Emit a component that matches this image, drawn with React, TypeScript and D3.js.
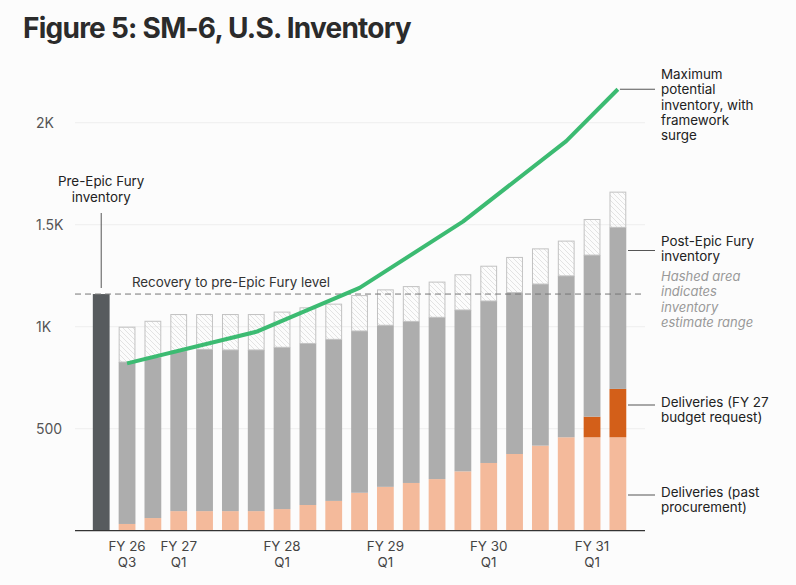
import React from 'react'
import * as d3 from 'd3'

// quarters shown as bars (after the pre-Epic Fury bar)
const quarters = [
  'FY26 Q3', 'FY26 Q4',
  'FY27 Q1', 'FY27 Q2', 'FY27 Q3', 'FY27 Q4',
  'FY28 Q1', 'FY28 Q2', 'FY28 Q3', 'FY28 Q4',
  'FY29 Q1', 'FY29 Q2', 'FY29 Q3', 'FY29 Q4',
  'FY30 Q1', 'FY30 Q2', 'FY30 Q3', 'FY30 Q4',
  'FY31 Q1', 'FY31 Q2',
]
const preEpicKey = 'Pre'
const preEpicValue = 1160

// deliveries, past procurement
const pastDeliveries = [33, 62, 96, 96, 96, 96, 106, 126, 146, 186, 215, 234, 253, 291, 332, 376, 417, 458, 458, 458]
// deliveries, FY 27 budget request
const budgetDeliveries = [0, 0, 0, 0, 0, 0, 0, 0, 0, 0, 0, 0, 0, 0, 0, 0, 0, 0, 101, 237]
// post-Epic Fury inventory, low and high estimate
const inventoryLow = [827, 850, 882, 889, 886, 886, 899, 918, 938, 979, 1007, 1026, 1046, 1082, 1126, 1167, 1209, 1249, 1351, 1487]
const inventoryHigh = [1000, 1029, 1062, 1062, 1062, 1062, 1074, 1095, 1113, 1155, 1183, 1199, 1221, 1257, 1299, 1342, 1384, 1422, 1528, 1662]

// maximum potential inventory with framework surge
const surgeQuarters = ['FY26 Q3', 'FY27 Q4', 'FY28 Q4', 'FY29 Q4', 'FY30 Q4', 'FY31 Q2']
const surgeValues = [820, 975, 1190, 1515, 1910, 2164]

const yTicks = [500, 1000, 1500, 2000]
const xTickQuarters = ['FY26 Q3', 'FY27 Q1', 'FY28 Q1', 'FY29 Q1', 'FY30 Q1', 'FY31 Q1']

const FONT = 'Inter, "Noto Sans", sans-serif'

const App = () => {
  const x = d3.scaleBand<string>()
    .domain([preEpicKey, ...quarters])
    .range([88.3, 630.8])
    .paddingInner(0.35)
    .paddingOuter(0.175)
  const y = d3.scaleLinear().domain([0, 2000]).range([530.7, 122.7])
  const bw = x.bandwidth()
  const cx = (k: string) => (x(k) || 0) + bw / 2

  const line = d3.line<number>()
    .x((_, i) => cx(surgeQuarters[i]))
    .y((d) => y(d))

  const tickFmt = (v: number) => (v >= 1000 ? d3.format('~g')(v / 1000) + 'K' : String(v))

  const gridX0 = 75
  const gridX1 = 645
  const fs = 13.4

  return (
    <div style={{ position: 'absolute', left: 0, top: 0 }}>
      <svg width={796} height={585} style={{ display: 'block', background: '#fcfcfc', fontFamily: FONT }}>
        <defs>
          <pattern id="hatch" patternUnits="userSpaceOnUse" width={5} height={5}>
            <path d="M-1,-1 L6,6 M-1,4 L1,6 M4,-1 L6,1" stroke="#d9d9d9" strokeWidth={0.7} />
          </pattern>
        </defs>

        <text x={23} y={38} fontSize={28} fontWeight={700} fill="#2b2b2b" letterSpacing={-0.75}>
          Figure 5: SM-6, U.S. Inventory
        </text>

        {/* grid + y ticks */}
        {yTicks.map((t) => (
          <g key={t}>
            <line x1={gridX0} x2={gridX1} y1={y(t)} y2={y(t)} stroke="#eeeeee" strokeWidth={1} />
            <text x={36} y={y(t)} dy="0.35em" fontSize={14} fill="#555">{tickFmt(t)}</text>
          </g>
        ))}

        {/* pre-Epic Fury bar */}
        <rect x={x(preEpicKey)} y={y(preEpicValue)} width={bw} height={y(0) - y(preEpicValue)} fill="#575b5e" />

        {/* stacked bars */}
        {quarters.map((q, i) => {
          const bx = x(q) || 0
          const p = pastDeliveries[i]
          const b = budgetDeliveries[i]
          return (
            <g key={q}>
              <rect x={bx} y={y(p)} width={bw} height={y(0) - y(p)} fill="#f4ba9b" />
              {b > 0 && <rect x={bx} y={y(p + b)} width={bw} height={y(p) - y(p + b)} fill="#d35f19" />}
              <rect x={bx} y={y(inventoryLow[i])} width={bw} height={y(p + b) - y(inventoryLow[i])} fill="#adadad" />
              <rect
                x={bx + 0.5}
                y={y(inventoryHigh[i]) + 0.5}
                width={bw - 1}
                height={y(inventoryLow[i]) - y(inventoryHigh[i]) - 0.5}
                fill="url(#hatch)"
                stroke="#c2c2c2"
                strokeWidth={1}
              />
            </g>
          )
        })}

        {/* baseline */}
        <line x1={gridX0} x2={gridX1} y1={y(0)} y2={y(0)} stroke="#333" strokeWidth={1.2} />

        {/* recovery level */}
        <line x1={gridX0} x2={gridX1} y1={y(preEpicValue)} y2={y(preEpicValue)} stroke="#777" strokeWidth={1} strokeDasharray="6,4" />
        <text x={231} y={y(preEpicValue) - 7} textAnchor="middle" fontSize={fs} fill="#333">
          Recovery to pre-Epic Fury level
        </text>

        {/* pre-Epic Fury label */}
        <text x={cx(preEpicKey)} y={186} textAnchor="middle" fontSize={fs} fill="#222">Pre-Epic Fury</text>
        <text x={cx(preEpicKey)} y={201.5} textAnchor="middle" fontSize={fs} fill="#222">inventory</text>
        <line x1={cx(preEpicKey)} x2={cx(preEpicKey)} y1={213} y2={288} stroke="#555" strokeWidth={1} />

        {/* surge line */}
        <path d={line(surgeValues) || ''} fill="none" stroke="#3cbb72" strokeWidth={4} strokeLinejoin="round" />

        {/* x ticks */}
        {xTickQuarters.map((q) => {
          const [fy, qq] = q.split(' ')
          return (
            <text key={q} x={cx(q)} textAnchor="middle" fontSize={fs} fill="#444">
              <tspan x={cx(q)} y={551}>{fy.replace('FY', 'FY ')}</tspan>
              <tspan x={cx(q)} y={566.5}>{qq}</tspan>
            </text>
          )
        })}

        {/* right-hand annotations */}
        <line x1={cx('FY31 Q2') + 2} x2={655} y1={y(surgeValues[5])} y2={y(surgeValues[5])} stroke="#555" strokeWidth={1} />
        {['Maximum', 'potential', 'inventory, with', 'framework', 'surge'].map((t, i) => (
          <text key={t} x={661} y={79 + i * 15.3} fontSize={fs} fill="#222">{t}</text>
        ))}

        <line x1={628} x2={655} y1={250.5} y2={250.5} stroke="#555" strokeWidth={1} />
        {['Post-Epic Fury', 'inventory'].map((t, i) => (
          <text key={t} x={661} y={245.5 + i * 15.3} fontSize={fs} fill="#222">{t}</text>
        ))}
        {['Hashed area', 'indicates', 'inventory', 'estimate range'].map((t, i) => (
          <text key={t + i} x={661} y={281 + i * 15.3} fontSize={13} fill="#999" fontStyle="italic">{t}</text>
        ))}

        <line x1={628} x2={655} y1={405} y2={405} stroke="#555" strokeWidth={1} />
        {['Deliveries (FY 27', 'budget request)'].map((t, i) => (
          <text key={t} x={661} y={406.5 + i * 15.3} fontSize={fs} fill="#222">{t}</text>
        ))}

        <line x1={628} x2={655} y1={495} y2={495} stroke="#555" strokeWidth={1} />
        {['Deliveries (past', 'procurement)'].map((t, i) => (
          <text key={t} x={661} y={496.5 + i * 15.3} fontSize={fs} fill="#222">{t}</text>
        ))}
      </svg>
    </div>
  )
}

export default App
